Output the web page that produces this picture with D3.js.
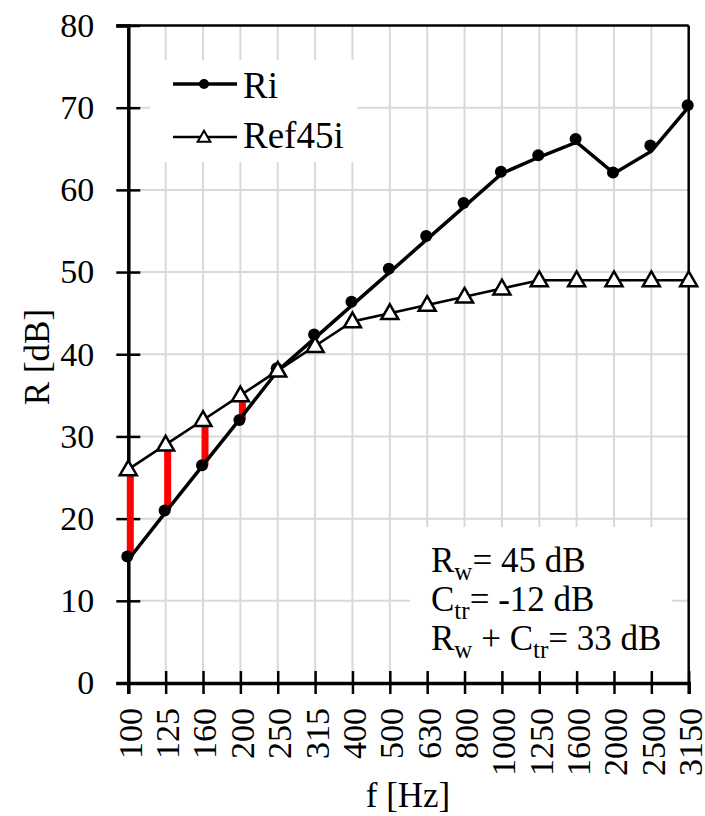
<!DOCTYPE html>
<html lang="en">
<head>
<meta charset="UTF-8" />
<title>R vs f</title>
<script src="https://d3js.org/d3.v7.min.js"></script>
<style>
  body { margin: 0; background: #fff; }
  text { font-family: "Liberation Serif", "Times New Roman", serif; fill: #000; }
  .grid line { stroke: #d9d9d9; stroke-width: 2; }
</style>
</head>
<body>
<script>
// data
var freqs = ["100","125","160","200","250","315","400","500","630","800","1000","1250","1600","2000","2500","3150"];
var riPoints = [15.4,21.0,26.5,32.0,38.3,42.4,46.4,50.4,54.4,58.4,62.2,64.2,66.2,62.1,65.4,70.3];
var riLine = [15.0,20.8,26.5,32.2,38.0,42.0,46.0,50.0,54.0,58.0,62.0,64.0,65.8,62.0,64.7,70.1];
var ref45 = [26,29,32,35,38,41,44,45,46,47,48,49,49,49,49,49];
var yTicks = [0,10,20,30,40,50,60,70,80];
var barIdx = [0,1,2,3];   // unfavourable deviations shown in red

var W = 705, H = 816;
var pL = 128.3, pR = 688.7, pT = 25.5, pB = 683;

var svg = d3.select("body").append("svg")
  .attr("width", W).attr("height", H);

var x = d3.scalePoint().domain(freqs).range([pL, pR]);
var y = d3.scaleLinear().domain([0, 80]).range([pB, pT]);

// grid
var grid = svg.append("g").attr("class", "grid");
grid.selectAll(".gx").data(freqs.slice(1, -1)).enter().append("line")
  .attr("x1", function(d) { return x(d); }).attr("x2", function(d) { return x(d); })
  .attr("y1", pT).attr("y2", pB);
grid.selectAll(".gy").data(yTicks.slice(1, -1)).enter().append("line")
  .attr("x1", pL).attr("x2", pR)
  .attr("y1", function(d) { return y(d); }).attr("y2", function(d) { return y(d); });

// white boxes behind legend and annotation
svg.append("rect").attr("x", 150).attr("y", 60).attr("width", 207).attr("height", 102).attr("fill", "#fff");
svg.append("rect").attr("x", 410).attr("y", 527).attr("width", 262).attr("height", 149).attr("fill", "#fff");

// frame top / right
svg.append("line").attr("x1", pL - 12).attr("x2", pR).attr("y1", pT).attr("y2", pT)
  .attr("stroke", "#000").attr("stroke-width", 2.5);
svg.append("line").attr("x1", pR).attr("x2", pR).attr("y1", pT).attr("y2", pB)
  .attr("stroke", "#000").attr("stroke-width", 2.5);

// axes
var yAxis = d3.axisLeft(y).tickValues(yTicks).tickSize(12).tickPadding(22);
var gy = svg.append("g").attr("transform", "translate(" + pL + ",0)").call(yAxis);
gy.attr("font-family", null);
gy.select(".domain").attr("stroke-width", 3.5);
gy.selectAll(".tick line").attr("stroke-width", 2.5).attr("x2", 12).attr("x1", -12);
gy.selectAll(".tick text").attr("font-size", 34);

var xAxis = d3.axisBottom(x).tickSize(11).tickPadding(0);
var gx = svg.append("g").attr("transform", "translate(0," + pB + ")").call(xAxis);
gx.attr("font-family", null);
gx.select(".domain").attr("stroke-width", 3.5);
gx.selectAll(".tick line").attr("stroke-width", 2.5).attr("y1", -12).attr("y2", 11);
gx.selectAll(".tick text")
  .attr("font-size", 34)
  .attr("text-anchor", "end")
  .attr("transform", "rotate(-90)")
  .attr("x", -25).attr("y", 0).attr("dy", "0.38em");

// red deviation bars
svg.selectAll(".bar").data(barIdx).enter().append("line")
  .attr("x1", function(i) { return x(freqs[i]) + 2; })
  .attr("x2", function(i) { return x(freqs[i]) + 2; })
  .attr("y1", function(i) { return y(riPoints[i]); })
  .attr("y2", function(i) { return y(ref45[i]); })
  .attr("stroke", "#ff0000").attr("stroke-width", 7);

// lines
var lineGen = d3.line().x(function(d, i) { return x(freqs[i]); }).y(function(d) { return y(d); });
svg.append("path").datum(riLine).attr("d", lineGen)
  .attr("fill", "none").attr("stroke", "#000").attr("stroke-width", 3.5);
svg.append("path").datum(ref45).attr("d", lineGen)
  .attr("fill", "none").attr("stroke", "#000").attr("stroke-width", 2.6);

// markers
svg.selectAll(".dot").data(riPoints).enter().append("circle")
  .attr("cx", function(d, i) { return x(freqs[i]) - 1; })
  .attr("cy", function(d) { return y(d); })
  .attr("r", 6).attr("fill", "#000");

var tri = d3.symbol().type(d3.symbolTriangle).size(125);
svg.selectAll(".tri").data(ref45).enter().append("path")
  .attr("d", tri)
  .attr("transform", function(d, i) { return "translate(" + x(freqs[i]) + "," + (y(d) + 1) + ")"; })
  .attr("fill", "#fff").attr("stroke", "#000").attr("stroke-width", 2.5);

// legend
var lg = svg.append("g");
lg.append("line").attr("x1", 173).attr("x2", 237).attr("y1", 84).attr("y2", 84)
  .attr("stroke", "#000").attr("stroke-width", 3.5);
lg.append("circle").attr("cx", 204).attr("cy", 84).attr("r", 5).attr("fill", "#000");
lg.append("text").attr("x", 243).attr("y", 98).attr("font-size", 37).text("Ri");
lg.append("line").attr("x1", 173).attr("x2", 237).attr("y1", 137).attr("y2", 137)
  .attr("stroke", "#000").attr("stroke-width", 2.6);
lg.append("path").attr("d", d3.symbol().type(d3.symbolTriangle).size(70))
  .attr("transform", "translate(204,138)")
  .attr("fill", "#fff").attr("stroke", "#000").attr("stroke-width", 2);
lg.append("text").attr("x", 243).attr("y", 148).attr("font-size", 37).text("Ref45i");

// annotation
var ann = [
  [["R", 0], ["w", 1], ["= 45 dB", 0]],
  [["C", 0], ["tr", 1], ["= -12 dB", 0]],
  [["R", 0], ["w", 1], [" + C", 0], ["tr", 1], ["= 33 dB", 0]]
];
var annY = [572, 611, 650];
ann.forEach(function(parts, k) {
  var t = svg.append("text").attr("x", 431).attr("y", annY[k]).attr("font-size", 35);
  var prev = 0;
  parts.forEach(function(p) {
    var sub = p[1];
    t.append("tspan")
      .attr("font-size", sub ? 25 : 35)
      .attr("dy", (sub ? 8 : 0) - (prev ? 8 : 0))
      .text(p[0]);
    prev = sub;
  });
});

// axis titles
svg.append("text").attr("transform", "translate(49,357) rotate(-90)")
  .attr("text-anchor", "middle").attr("font-size", 35).text("R [dB]");
svg.append("text").attr("x", 408).attr("y", 807)
  .attr("text-anchor", "middle").attr("font-size", 35).text("f [Hz]");
</script>
</body>
</html>
